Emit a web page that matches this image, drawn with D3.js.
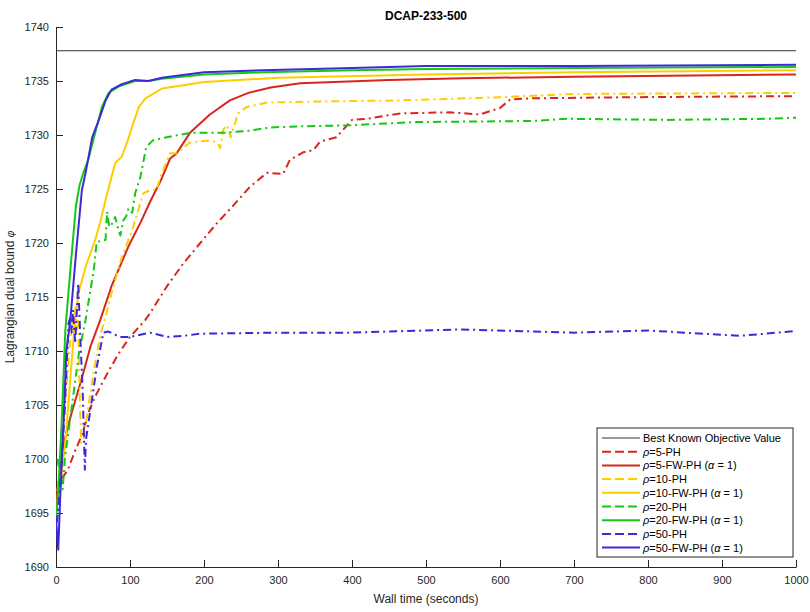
<!DOCTYPE html>
<html><head><meta charset="utf-8">
<script src="https://cdn.jsdelivr.net/npm/d3@7/dist/d3.min.js"></script>
<style>
body{margin:0;background:#fff;}
svg{font-family:"Liberation Sans",Arial,Helvetica,sans-serif;}
</style></head>
<body>
<svg id="chart" width="810" height="612"></svg>
<script>
// ---------------- data ----------------
const chartTitle = "DCAP-233-500";
const xTicks = [0,100,200,300,400,500,600,700,800,900,1000];
const yTicks = [1690,1695,1700,1705,1710,1715,1720,1725,1730,1735,1740];
const bestKnown = 1737.8;

const rho5PH = [[8,1698.2],[16,1699],[26,1700.8],[35,1702.2],[45,1704.5],[53,1705.8],[70,1708],[85,1709.8],[100,1711.3],[121,1712.9],[127,1713.5],[150,1716],[172,1718.1],[195,1720],[217,1721.8],[240,1723.5],[262,1725.2],[285,1726.5],[307,1726.4],[316,1727.7],[334,1728.4],[348,1728.6],[357,1729.4],[379,1729.8],[400,1731.4],[420,1731.5],[465,1732.0],[532,1732.1],[573,1731.9],[586,1732.2],[600,1732.5],[614,1733.3],[645,1733.4],[780,1733.5],[1000,1733.6]];
const rho5FW = [[0,1696],[3,1697.5],[8,1700.8],[20,1704],[35,1707.5],[47,1710.5],[60,1712.9],[75,1716],[98,1719.7],[115,1722],[127,1723.8],[143,1726],[154,1727.8],[163,1728.3],[181,1730.2],[208,1731.9],[235,1733.2],[260,1733.9],[290,1734.4],[330,1734.8],[450,1735.1],[550,1735.25],[700,1735.4],[1000,1735.6]];
const rho10PH = [[2,1697],[6,1700],[12,1705],[18,1710],[22,1713],[24,1711.5],[26,1714],[28,1712],[30,1713],[32,1706],[34,1701.5],[38,1702],[44,1705],[52,1708.5],[60,1711.5],[67,1713.2],[76,1715.6],[89,1718.7],[103,1721.2],[118,1724.6],[127,1724.9],[136,1724.9],[141,1726.1],[154,1728.3],[163,1728.3],[181,1729.3],[208,1729.5],[218,1729.3],[222,1728.8],[226,1730.5],[231,1730.9],[236,1729.8],[246,1732],[258,1732.6],[285,1733],[352,1733.1],[465,1733.2],[600,1733.5],[700,1733.8],[1000,1733.9]];
const rho10FW = [[0,1695],[5,1697.5],[12,1701],[20,1708],[26,1713],[31,1715.5],[40,1717.8],[53,1720.3],[60,1722],[67,1724],[80,1727.4],[89,1728],[97,1729.5],[103,1730.8],[112,1732.6],[121,1733.4],[143,1734.3],[200,1734.9],[300,1735.3],[500,1735.6],[700,1735.8],[1000,1736.0]];
const rho20PH = [[2,1700],[9,1697.2],[12,1700],[22,1705.2],[31,1709.8],[40,1712.9],[51,1717.5],[55,1720.1],[62,1720.2],[67,1720.3],[69,1722.9],[72,1721.5],[76,1721.8],[80,1722.4],[84,1721.3],[87,1720.7],[91,1722.1],[95,1722.5],[98,1723.2],[103,1722.8],[107,1724.6],[114,1726.1],[122,1728.9],[131,1729.5],[150,1729.8],[181,1730.2],[226,1730.2],[262,1730.4],[289,1730.7],[330,1730.8],[397,1730.9],[488,1731.2],[645,1731.3],[690,1731.5],[826,1731.4],[961,1731.5],[1000,1731.6]];
const rho20FW = [[0,1694.4],[4,1698],[8,1704],[12.6,1711.9],[20,1718],[27,1723.5],[32,1725.4],[37,1726.5],[44,1727.8],[53,1730.2],[62,1732.6],[71,1733.9],[85,1734.5],[107,1735.0],[125,1735.0],[143,1735.2],[200,1735.6],[280,1735.8],[400,1736.0],[500,1736.1],[700,1736.2],[1000,1736.3]];
const rho50PH = [[1,1694.1],[5,1696.9],[12,1704.8],[17,1712.6],[20,1713.2],[21,1711.7],[23,1713.8],[26,1710.7],[30,1716.3],[33,1711],[36,1706.4],[39,1699.0],[40.5,1701.8],[46,1704.3],[55,1708.5],[64,1711.7],[71,1711.8],[86,1711.3],[100,1711.3],[127,1711.7],[150,1711.3],[172,1711.4],[195,1711.6],[300,1711.7],[400,1711.7],[546,1712.0],[700,1711.7],[800,1711.9],[924,1711.4],[1000,1711.85]];
const rho50FW = [[0,1694.5],[3,1691.6],[6,1697],[10,1703],[14,1710],[19.4,1712.9],[27,1719],[35,1724.9],[40,1726.5],[49,1729.8],[58,1731.4],[67,1733.2],[75,1734.2],[89,1734.7],[107,1735.1],[125,1735.0],[143,1735.3],[200,1735.8],[280,1736.0],[400,1736.2],[500,1736.4],[700,1736.4],[1000,1736.5]];

const seriesNames = ["5-PH","5-FW-PH","10-PH","10-FW-PH","20-PH","20-FW-PH","50-PH","50-FW-PH"];
const seriesData = [rho5PH,rho5FW,rho10PH,rho10FW,rho20PH,rho20FW,rho50PH,rho50FW];
const seriesColors = ["#d9261c","#d9261c","#ffcc00","#ffcc00","#14c814","#14c814","#3c2ad8","#3c2ad8"];
const seriesDashed = [true,false,true,false,true,false,true,false];

// ---------------- layout ----------------
const svg = d3.select("#chart");
const L = 56, R = 796, T = 27, B = 567;
const x = d3.scaleLinear().domain([0,1000]).range([L,R]);
const y = d3.scaleLinear().domain([1690,1740]).range([B,T]);
const axisColor = "#262626";

svg.append("defs").append("clipPath").attr("id","plotclip")
  .append("rect").attr("x",L).attr("y",T).attr("width",R-L).attr("height",B-T);

// axes (box off, inward ticks)
const fmt = d3.format("d");
const xAxis = d3.axisBottom(x).tickValues(xTicks).tickFormat(fmt).tickSizeInner(-7).tickSizeOuter(0).tickPadding(7);
const yAxis = d3.axisLeft(y).tickValues(yTicks).tickFormat(fmt).tickSizeInner(-7).tickSizeOuter(0).tickPadding(7);
const gx = svg.append("g").attr("transform",`translate(0,${B})`).call(xAxis);
const gy = svg.append("g").attr("transform",`translate(${L},0)`).call(yAxis);
[gx,gy].forEach(g=>{
  g.select(".domain").attr("stroke",axisColor).attr("stroke-width",1);
  g.selectAll(".tick line").attr("stroke",axisColor).attr("stroke-width",1);
  g.selectAll(".tick text").attr("fill",axisColor).style("font-size","11px")
    .style("font-family","'Liberation Sans',Arial,sans-serif");
});
gx.selectAll(".tick text").attr("dy","0.9em");

// best known
const plot = svg.append("g").attr("clip-path","url(#plotclip)");
plot.append("line").attr("x1",x(0)).attr("x2",x(1000)).attr("y1",y(bestKnown)).attr("y2",y(bestKnown))
  .attr("stroke","#333").attr("stroke-width",1);

const line = d3.line().x(d=>x(d[0])).y(d=>y(d[1]));
const dashPat = "8,4,2,4";
seriesData.forEach((data,i)=>{
  plot.append("path").datum(data).attr("d",line)
    .attr("fill","none").attr("stroke",seriesColors[i]).attr("stroke-width",2)
    .attr("stroke-linejoin","round")
    .attr("stroke-dasharray",seriesDashed[i]?dashPat:null);
});

// title & labels
svg.append("text").attr("x",(L+R)/2).attr("y",20).attr("text-anchor","middle")
  .style("font-size","12px").style("font-weight","bold").attr("fill","#000").text(chartTitle);
svg.append("text").attr("x",(L+R)/2).attr("y",603).attr("text-anchor","middle")
  .style("font-size","12px").attr("fill",axisColor).text("Wall time (seconds)");
const yl = svg.append("text").attr("transform",`translate(14,${(T+B)/2}) rotate(-90)`)
  .attr("text-anchor","middle").style("font-size","12px").attr("fill",axisColor);
yl.append("tspan").text("Lagrangian dual bound ");
yl.append("tspan").style("font-style","italic").style("font-size","10px").text("φ");

// legend
const lg = svg.append("g").attr("transform","translate(597,428)");
lg.append("rect").attr("x",0).attr("y",0).attr("width",196).attr("height",129)
  .attr("fill","#fff").attr("stroke",axisColor).attr("stroke-width",1);
const rowH = 13.7, row0 = 10;
lg.append("line").attr("x1",5).attr("x2",43).attr("y1",row0).attr("y2",row0).attr("stroke","#333").attr("stroke-width",1);
lg.append("text").attr("x",46).attr("y",row0+4).style("font-size","11px").attr("fill","#000").text("Best Known Objective Value");
seriesNames.forEach((nm,i)=>{
  const yy = row0 + rowH*(i+1);
  lg.append("line").attr("x1",5).attr("x2",43).attr("y1",yy).attr("y2",yy)
    .attr("stroke",seriesColors[i]).attr("stroke-width",2)
    .attr("stroke-dasharray",seriesDashed[i]?"9,4":null);
  const t = lg.append("text").attr("x",46).attr("y",yy+4).style("font-size","11px").attr("fill","#000");
  t.append("tspan").style("font-style","italic").text("ρ");
  t.append("tspan").text("=" + nm + (seriesDashed[i] ? "" : " ("));
  if(!seriesDashed[i]){
    t.append("tspan").style("font-style","italic").text("α");
    t.append("tspan").text(" = 1)");
  }
});
</script>
</body></html>
